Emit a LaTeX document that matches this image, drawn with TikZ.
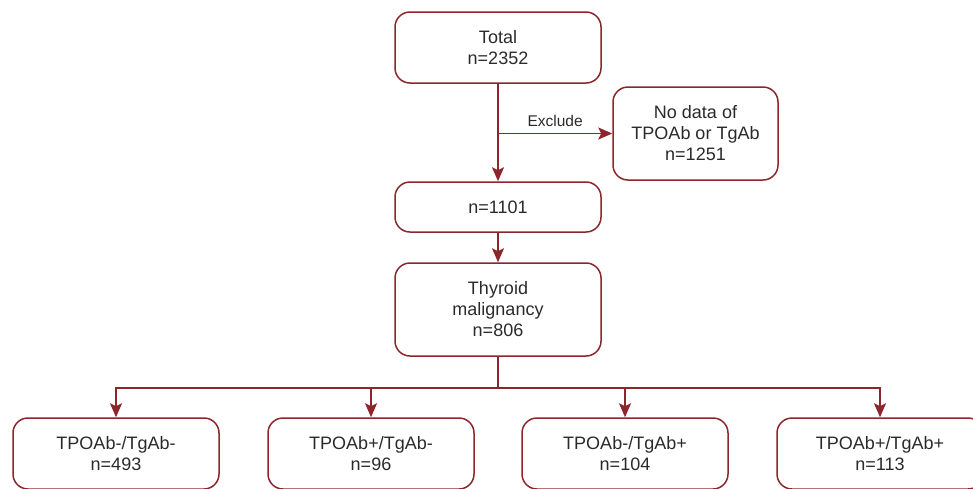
\documentclass[tikz,border=0pt]{standalone}
\usepackage{fontspec}
\setmainfont{Liberation Sans}
\usetikzlibrary{arrows.meta}
\definecolor{wine}{RGB}{139,38,44}
\definecolor{ink}{RGB}{42,42,42}
\tikzset{
  box/.style={draw=wine, line width=1.5pt, rounded corners=15pt, align=center,
    text=ink, font=\fontsize{18}{21}\selectfont, minimum width=206pt, inner sep=0pt},
  flow/.style={draw=wine, line width=1.8pt, ->},
}
\begin{document}
\begin{tikzpicture}[x=1pt, y=-1pt, >={Stealth[length=14pt,width=12pt,inset=3pt]}]
	\clip (0,0) rectangle (973,488);
	
	% main column
	\node[box, minimum height=71pt] (total) at (498,47.5) {Total\\n=2352};
	\node[box, minimum width=165pt, minimum height=93pt] (nodata) at (695.5,133.5) {No data of\\TPOAb or TgAb\\n=1251};
	\node[box, minimum height=50pt] (n1101) at (498,207) {n=1101};
	\node[box, minimum height=93pt] (malig) at (498,309.5) {Thyroid\\malignancy\\n=806};
	
	\draw[flow] (total) -- (n1101);
	\draw[flow] (total.south |- nodata.west) -- node[above=3pt, text=ink, font=\fontsize{15.5}{18}\selectfont] {Exclude} (nodata.west);
	\draw[flow] (n1101) -- (malig);
	
	% antibody groups
	\node[box, minimum height=71pt] (g1) at (116,453.5) {TPOAb-/TgAb-\\n=493};
	\node[box, minimum height=71pt] (g2) at (371,453.5) {TPOAb+/TgAb-\\n=96};
	\node[box, minimum height=71pt] (g3) at (625,453.5) {TPOAb-/TgAb+\\n=104};
	\node[box, minimum height=71pt] (g4) at (880,453.5) {TPOAb+/TgAb+\\n=113};
	
	\coordinate (split) at (498,388);
	\draw[draw=wine, line width=1.8pt] (malig) -- (split);
	\foreach \g in {g1,g2,g3,g4}
		\draw[flow] (split) -| (\g.north);
\end{tikzpicture}
\end{document}
